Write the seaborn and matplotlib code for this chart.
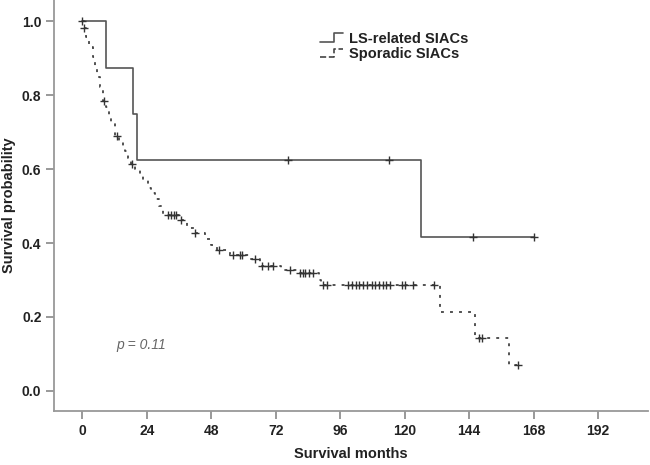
import matplotlib
matplotlib.use("Agg")
import matplotlib.pyplot as plt
from matplotlib.legend_handler import HandlerBase
from matplotlib.lines import Line2D
import numpy as np
import pandas as pd
import seaborn as sns

# LS-related SIACs: Kaplan-Meier steps (time, survival) and censored points
ls_time = [0, 8.8, 18.8, 20.4, 126, 168]
ls_surv = [1.0, 0.875, 0.75, 0.625, 0.417, 0.417]
ls_cens_time = [76.4, 114, 145.5, 168]
ls_cens_surv = [0.625, 0.625, 0.417, 0.417]

# Sporadic SIACs
sp_time = [0, 0.5, 1.5, 2.6, 3.9, 4.5, 5.5, 6.4, 7.5, 8.8, 10.0, 10.7, 12.0, 13.8,
           15.0, 15.7, 16.9, 18.0, 19.5, 21.4, 22.6, 24.5, 25.5, 27.0, 28.5, 30.0,
           36.0, 39.0, 41.5, 45.5, 48.0, 50.0, 55.0, 62.0, 66.0, 74.0, 80.0, 88.0,
           89.0, 133.0, 146.0, 159.0, 162.0]
sp_surv = [1.0, 0.983, 0.959, 0.932, 0.905, 0.878, 0.85, 0.822, 0.785, 0.768, 0.745,
           0.728, 0.69, 0.675, 0.66, 0.648, 0.63, 0.615, 0.60, 0.588, 0.571, 0.548,
           0.535, 0.52, 0.50, 0.475, 0.462, 0.44, 0.426, 0.41, 0.394, 0.38, 0.367,
           0.356, 0.339, 0.327, 0.318, 0.30, 0.286, 0.214, 0.143, 0.071, 0.071]
sp_cens_time = [0, 0.5, 8.0, 12.8, 18.5, 32, 33, 34, 35, 36.8, 42, 50.7, 56, 58.5,
                59.6, 64.2, 67, 69, 71, 77.2, 81, 82, 83, 84.5, 86, 89.5, 91,
                99, 100.5, 102, 103, 104.5, 106, 108, 109, 110.5, 112, 113, 114.5,
                119, 120, 123, 131, 147.5, 148.8, 162]
sp_cens_surv = [1.0, 0.983, 0.785, 0.69, 0.615, 0.475, 0.475, 0.475, 0.475, 0.462,
                0.426, 0.38, 0.367, 0.367, 0.367, 0.356, 0.339, 0.339, 0.339, 0.327,
                0.318, 0.318, 0.318, 0.318, 0.318, 0.286, 0.286,
                0.286, 0.286, 0.286, 0.286, 0.286, 0.286, 0.286, 0.286, 0.286, 0.286,
                0.286, 0.286, 0.286, 0.286, 0.286, 0.286, 0.143, 0.143, 0.071]

x_ticks = [0, 24, 48, 72, 96, 120, 144, 168, 192]
y_ticks = [0.0, 0.2, 0.4, 0.6, 0.8, 1.0]

sns.set_style("white")
plt.rcParams["font.family"] = ["Liberation Sans", "DejaVu Sans"]

ls_df = pd.DataFrame({"t": ls_time, "s": ls_surv})
sp_df = pd.DataFrame({"t": sp_time, "s": sp_surv})

fig = plt.figure(figsize=(6.5, 4.65), dpi=100)
ax = fig.add_axes([0.083, 0.116, 0.914, 0.884])

line_col = "#555555"
sp_col = "#444444"
sp_dash = (0, (1.6, 3.4))
sns.lineplot(data=ls_df, x="t", y="s", estimator=None, sort=False,
             drawstyle="steps-post", color=line_col, lw=1.2, ax=ax)
sns.lineplot(data=sp_df, x="t", y="s", estimator=None, sort=False,
             drawstyle="steps-post", color=sp_col, lw=1.3, ax=ax)
ax.lines[1].set_linestyle(sp_dash)

sns.scatterplot(x=ls_cens_time, y=ls_cens_surv, marker="+", s=30, color="#333333",
                linewidth=1.0, ax=ax, zorder=3)
sns.scatterplot(x=sp_cens_time, y=sp_cens_surv, marker="+", s=30, color="#333333",
                linewidth=1.0, ax=ax, zorder=3)

ax.set_xlim(-10.6, 210.6)
ax.set_ylim(-0.055, 1.058)
ax.set_xticks(x_ticks)
ax.set_yticks(y_ticks)
ax.set_yticklabels([f"{v:.1f}" for v in y_ticks])
ax.tick_params(bottom=True, left=True, direction="out", length=6, width=1.2,
               color="#888888", labelsize=10, labelcolor="#222222", pad=3)
for lab in ax.get_xticklabels() + ax.get_yticklabels():
    lab.set_fontweight("bold")
for side in ["top", "right"]:
    ax.spines[side].set_visible(False)
for side in ["left", "bottom"]:
    ax.spines[side].set_color("#999999")
    ax.spines[side].set_linewidth(1.3)

ax.set_xlabel("Survival months", fontsize=10.5, fontweight="bold", color="#222222",
              labelpad=7)
ax.set_ylabel("Survival probability", fontsize=10.5, fontweight="bold", color="#222222")

ax.text(12.7, 0.123, "p = 0.11", fontsize=10, style="italic", color="#666666",
        va="center", ha="left")


class StepHandler(HandlerBase):
    def create_artists(self, legend, orig_handle, xdescent, ydescent, width, height,
                       fontsize, trans):
        xs = np.array([0, 0.6, 0.6, 1.0]) * width - xdescent
        ys = np.array([0.1, 0.1, 0.9, 0.9]) * height - ydescent
        ln = Line2D(xs, ys, color=orig_handle.get_color(),
                    linestyle=orig_handle.get_linestyle(), lw=1.2)
        ln.set_transform(trans)
        return [ln]


h1 = Line2D([], [], color=line_col, lw=1.2)
h2 = Line2D([], [], color=sp_col, lw=1.2, linestyle=sp_dash)
leg = ax.legend([h1, h2], ["LS-related SIACs", "Sporadic SIACs"],
                handler_map={Line2D: StepHandler()}, frameon=False,
                loc="upper left", bbox_to_anchor=(0.425, 0.955), handlelength=1.6,
                handletextpad=0.4, labelspacing=0.12,
                prop={"size": 10.5, "weight": "bold"})
for t in leg.get_texts():
    t.set_color("#222222")

fig.savefig("out.png", dpi=100)
